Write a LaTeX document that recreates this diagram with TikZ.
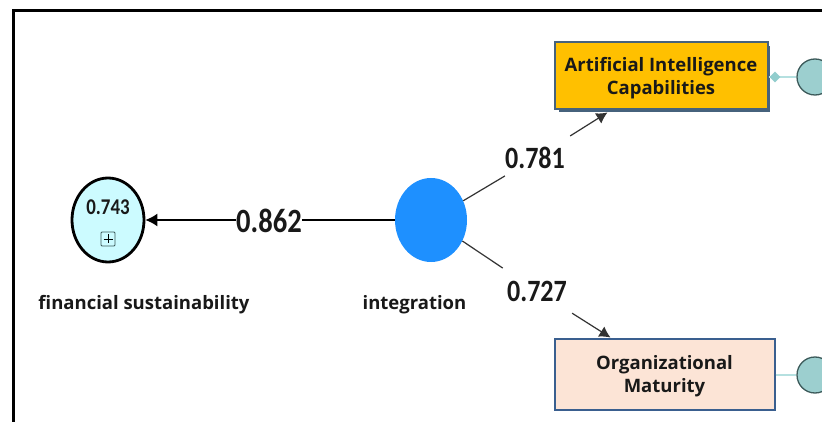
\documentclass[tikz,border=0pt]{standalone}
\usepackage{fontspec}
\setmainfont{Open Sans}
\newfontfamily\numfont[FakeStretch=0.84]{Carlito}
\usetikzlibrary{arrows.meta,calc,shapes.geometric}
\definecolor{aifill}{HTML}{FFC000}
\definecolor{aiedge}{HTML}{46627C}
\definecolor{omfill}{HTML}{FCE4D6}
\definecolor{omedge}{HTML}{3A5F8F}
\definecolor{tealfill}{HTML}{9CCFCF}
\definecolor{tealedge}{HTML}{3C5A5A}
\definecolor{teallink}{HTML}{B5E0E0}
\definecolor{fsfill}{HTML}{CCFBFF}
\definecolor{intfill}{HTML}{1E90FF}
\definecolor{linkgrey}{HTML}{333333}
\tikzset{
  x=1pt,y=-1pt,
  conbox/.style={draw,line width=2pt,align=center,inner sep=0pt,font=\fontsize{18.5}{23.5}\selectfont\bfseries,text=black!90},
  ind/.style={circle,draw=tealedge,fill=tealfill,line width=1.3pt,minimum size=36pt,inner sep=0pt},
  lat/.style={ellipse,minimum width=72pt,minimum height=84pt,inner sep=0pt},
  coef/.style={text=black!90,inner sep=0pt,minimum height=40pt},
  captext/.style={font=\fontsize{18.5}{20}\selectfont\bfseries,text=black!90,inner sep=0pt},
  link/.style={draw=linkgrey,line width=1.2pt},
  arrowlink/.style={link,shorten <=6pt,-{Latex[length=11pt,width=12pt]}},
  outerlink/.style={teallink,line width=2pt}
}
\begin{document}
\begin{tikzpicture}
\useasboundingbox (0,0) rectangle (822,422);
\clip (0,0) rectangle (822,422);
\fill[white] (0,0) rectangle (822,422);
\draw[black,line width=3pt] (13.5,430) -- (13.5,11) -- (830,11);

% latent variables
\node[lat,draw=black,line width=2.8pt,fill=fsfill] (fs) at (108,220) {};
\node[lat,fill=intfill] (intg) at (431,220) {};
\node[font=\numfont\bfseries\fontsize{22.5}{24}\selectfont,text=black!90,inner sep=0pt] (fsval) at (108,207) {0.743};
\node[draw=tealedge,line width=.9pt,fill=fsfill,minimum size=14pt,inner sep=0pt,rounded corners=1pt] (fsplus) at (108,239) {};
\draw[black,line width=.9pt] ($(fsplus)+(-4.5,0)$) -- ($(fsplus)+(4.5,0)$) ($(fsplus)+(0,-4.5)$) -- ($(fsplus)+(0,4.5)$);

% constructs
\fill[aiedge] (559,46) rectangle (770,112);
\node[conbox,draw=aiedge,fill=aifill,minimum width=213pt,minimum height=67pt] (ai) at (661,76) {\rule{0pt}{18pt}Artificial Intelligence\\Capabilities};
\node[conbox,draw=omedge,fill=omfill,minimum width=220pt,minimum height=71pt] (om) at (664.5,374) {\rule{0pt}{18pt}Organizational\\Maturity};

% indicators
\node[ind] (i1) at (815,77) {};
\node[ind] (i2) at (815,375) {};
\draw[outerlink] (ai.east |- i1) -- (i1);
\draw[outerlink] (om.east |- i2) -- (i2);
\node[diamond,fill=teallink!80!teal,minimum size=11pt,inner sep=0pt] (d1) at (775,77) {};

% coefficients
\node[coef,font=\numfont\bfseries\fontsize{34}{36}\selectfont] (c1) at (269,221) {0.862};
\node[coef,font=\numfont\bfseries\fontsize{31}{33}\selectfont] (c2) at (535,158) {0.781};
\node[coef,font=\numfont\bfseries\fontsize{31}{33}\selectfont] (c3) at (537,291) {0.727};

% connectors
\draw[black,line width=1.4pt] (intg) -- (c1.east |- intg);
\draw[black,line width=1.4pt,-{Latex[length=12pt,width=13pt]}] (c1.west |- fs) -- (fs);
\coordinate (aifoot) at ($(ai.south west)+(54,2)$);
\coordinate (omhead) at ($(om.north west)+(57,0)$);
\draw[link] (intg) -- (c2);
\draw[arrowlink] (c2) -- (aifoot);
\draw[link,shorten >=5pt] (intg) -- (c3);
\draw[arrowlink] (c3) -- (omhead);

% captions
\node[captext] (t1) at (144,305) {financial sustainability};
\node[captext] (t2) at (414.5,305) {integration};
\end{tikzpicture}
\end{document}
